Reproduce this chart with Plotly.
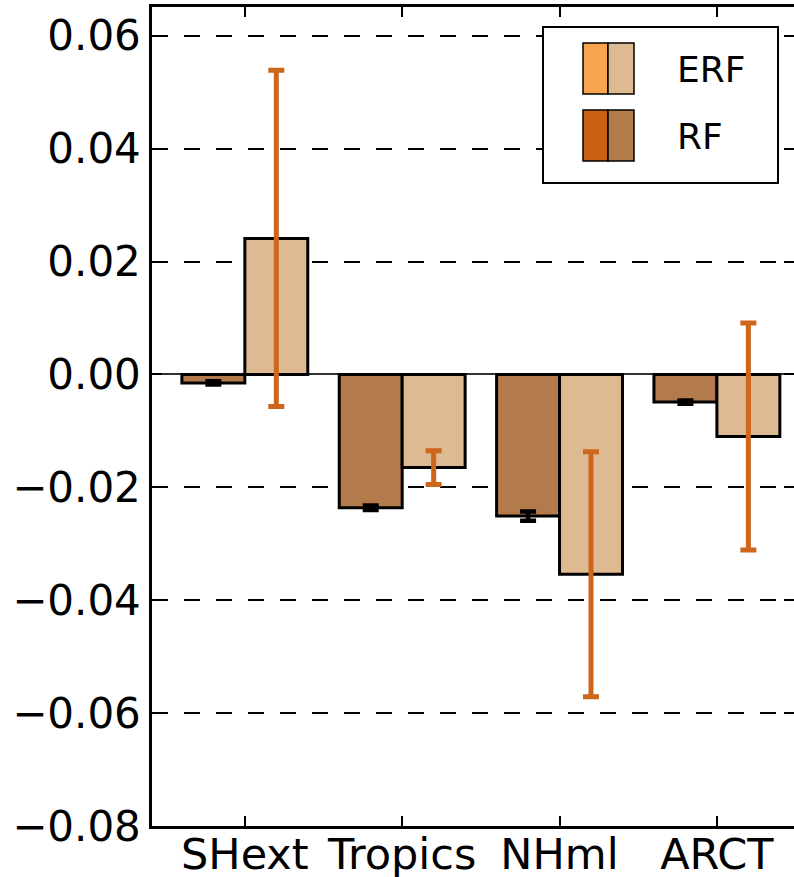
import plotly.graph_objects as go

# ---- data ----
regions = ["SHext", "Tropics", "NHml", "ARCT"]
rf_values = [-0.0015, -0.0236, -0.0251, -0.0049]
rf_errors = [0.0003, 0.0004, 0.0008, 0.0003]
erf_values = [0.0241, -0.0165, -0.0354, -0.0110]
erf_errors = [0.0298, 0.0030, 0.0217, 0.0201]
y_tick_values = [-0.08, -0.06, -0.04, -0.02, 0.00, 0.02, 0.04, 0.06]
legend_labels = ["ERF", "RF"]

# ---- styles ----
RF_COLOR = "#B37A4C"
ERF_COLOR = "#DEBA92"
ERF_LEG_DARK = "#F8A54F"
RF_LEG_DARK = "#CA6112"
ERR_COLOR = "#CD651A"
FONT = "DejaVu Sans"

W, H = 794, 877
L, T, R, B = 152, 7, 0, 51
PW, PH = W - L - R, H - T - B


def px_x(p):
    return (p - L) / PW


def px_y(p):
    return (H - B - p) / PH


fig = go.Figure()
fig.add_trace(go.Bar(
    x=regions, y=rf_values, name="RF",
    marker=dict(color=RF_COLOR, line=dict(color="black", width=3)),
    error_y=dict(type="data", array=rf_errors, color="black", thickness=4.5, width=8),
    showlegend=False,
))
fig.add_trace(go.Bar(
    x=regions, y=erf_values, name="ERF",
    marker=dict(color=ERF_COLOR, line=dict(color="black", width=3)),
    error_y=dict(type="data", array=erf_errors, color=ERR_COLOR, thickness=5, width=8),
    showlegend=False,
))

shapes = []
# legend box
shapes.append(dict(type="rect", xref="paper", yref="paper",
                   x0=px_x(543), x1=px_x(778), y0=px_y(183), y1=px_y(27),
                   fillcolor="white", line=dict(color="black", width=2), layer="above"))
leg_rows = [(43, 94, ERF_LEG_DARK, ERF_COLOR), (110, 161, RF_LEG_DARK, RF_COLOR)]
for (ya, yb, c1, c2), lab in zip(leg_rows, legend_labels):
    shapes.append(dict(type="rect", xref="paper", yref="paper",
                       x0=px_x(583), x1=px_x(608), y0=px_y(yb), y1=px_y(ya),
                       fillcolor=c1, line=dict(color="black", width=1.5), layer="above"))
    shapes.append(dict(type="rect", xref="paper", yref="paper",
                       x0=px_x(608), x1=px_x(634), y0=px_y(yb), y1=px_y(ya),
                       fillcolor=c2, line=dict(color="black", width=1.5), layer="above"))
    fig.add_annotation(xref="paper", yref="paper", x=px_x(675), y=px_y((ya + yb) / 2 + 1),
                       text=lab, showarrow=False, xanchor="left", yanchor="middle",
                       font=dict(family=FONT, size=36, color="black"))

fig.update_layout(
    width=W, height=H,
    margin=dict(l=L, r=R, t=T, b=B, pad=0),
    paper_bgcolor="white", plot_bgcolor="white",
    barmode="group", bargap=0.2, bargroupgap=0,
    shapes=shapes,
    font=dict(family=FONT, color="black"),
)
fig.update_xaxes(
    type="category", range=[-0.59, 3.49],
    showline=True, linecolor="black", linewidth=2.5, mirror="ticks",
    ticks="inside", ticklen=10, tickwidth=1.5, tickcolor="black",
    tickfont=dict(family=FONT, size=43, color="black"), ticklabelstandoff=-11,
    showgrid=False, zeroline=False, automargin=False,
)
fig.update_yaxes(
    range=[-0.08, 0.0651],
    tickvals=y_tick_values, tickformat=".2f",
    showline=True, linecolor="black", linewidth=2.5, mirror="ticks",
    ticks="inside", ticklen=10, tickwidth=1.5, tickcolor="black",
    tickfont=dict(family=FONT, size=42, color="black"),
    showgrid=True, gridcolor="black", gridwidth=1.5, griddash="16px,16px",
    zeroline=True, zerolinecolor="#333333", zerolinewidth=1.5, automargin=False,
)

fig.write_html(
    "out.html",
    config={"displayModeBar": False},
    post_script="document.body.style.margin='0';document.body.style.overflow='hidden';",
)
